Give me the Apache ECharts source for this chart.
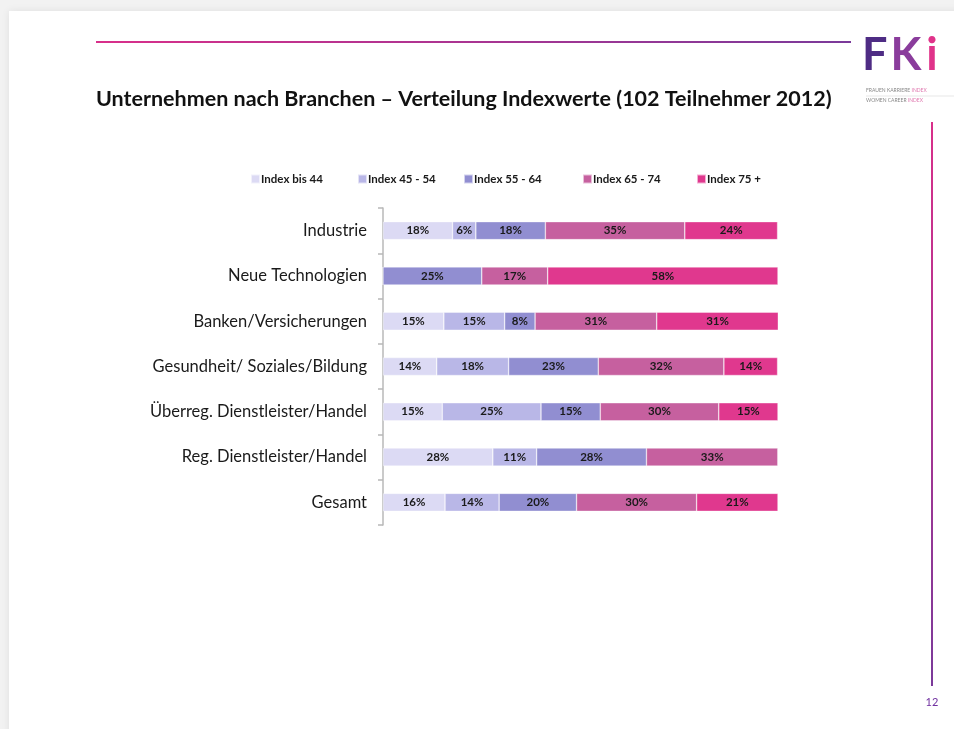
<!DOCTYPE html>
<html>
<head>
<meta charset="utf-8">
<script src="https://cdn.jsdelivr.net/npm/echarts@6/dist/echarts.min.js"></script>
<style>
html,body{margin:0;padding:0;background:#f2f2f2;}
#chart{width:954px;height:729px;}
</style>
</head>
<body>
<div id="chart"></div>
<script>
const categories = ['Industrie','Neue Technologien','Banken/Versicherungen','Gesundheit/ Soziales/Bildung','Überreg. Dienstleister/Handel','Reg. Dienstleister/Handel','Gesamt'];
const seriesNames = ['Index bis 44','Index 45 - 54','Index 55 - 64','Index 65 - 74','Index 75 +'];
const indexBis44 = [17.6, 0, 15.4, 13.6, 15.0, 27.8, 15.7];
const index45to54 = [5.9, 0, 15.4, 18.2, 25.0, 11.1, 13.7];
const index55to64 = [17.6, 25.0, 7.7, 22.7, 15.0, 27.8, 19.6];
const index65to74 = [35.3, 16.7, 30.8, 31.8, 30.0, 33.3, 30.4];
const index75plus = [23.5, 58.3, 30.8, 13.6, 15.0, 0, 20.6];
const colors = ['#DCDAF4','#B9B7E7','#918ED1','#C6609F','#E0388E'];
const legendLefts = [250, 357, 463, 582, 696];

const values = [indexBis44, index45to54, index55to64, index65to74, index75plus];
const FONT = 'Lato, "Open Sans", sans-serif';

const chart = echarts.init(document.getElementById('chart'));
const option = {
  backgroundColor: '#f2f2f2',
  animation: false,
  textStyle: {fontFamily: FONT},
  legend: seriesNames.map((n, i) => ({
    data: [n], left: legendLefts[i], top: 173, icon: 'rect', padding: 0,
    itemWidth: 9, itemHeight: 9, itemGap: 2,
    textStyle: {fontFamily: FONT, fontSize: 11.5, fontWeight: 'bold', color: '#1a1a1a', padding: [0,0,0,-4]},
    selectedMode: false
  })),
  grid: {left: 383, right: 176, top: 208, bottom: 204, containLabel: false},
  xAxis: {type: 'value', min: 0, max: 100, show: false},
  yAxis: {
    type: 'category', data: categories, inverse: true,
    axisLine: {show: true, lineStyle: {color: '#b8b8b8', width: 1.5}},
    axisTick: {show: true, length: 5, lineStyle: {color: '#b8b8b8', width: 1.5}},
    axisLabel: {fontFamily: FONT, fontSize: 16.5, color: '#1a1a1a', margin: 16}
  },
  series: seriesNames.map((n, i) => ({
    name: n, type: 'bar', stack: 'total', barWidth: 18,
    data: values[i],
    itemStyle: {color: colors[i], borderColor: 'rgba(255,255,255,0.6)', borderWidth: 0.6},
    label: {
      show: true, position: 'inside', fontFamily: FONT, fontSize: 11.5, fontWeight: 'bold', color: '#1a1a1a',
      formatter: p => p.value > 0 ? Math.round(p.value) + '%' : ''
    }
  })),
  graphic: [
    {type: 'rect', z: -10, shape: {x: 9, y: 11, width: 960, height: 730},
     style: {fill: '#ffffff', shadowBlur: 8, shadowColor: 'rgba(0,0,0,0.08)'}},
    {type: 'line', shape: {x1: 96, y1: 42, x2: 851, y2: 42},
     style: {lineWidth: 2, stroke: new echarts.graphic.LinearGradient(0,0,1,0,[{offset:0,color:'#D92F8A'},{offset:1,color:'#7A3A9A'}])}},
    {type: 'line', shape: {x1: 932, y1: 122, x2: 932, y2: 686},
     style: {lineWidth: 2, stroke: new echarts.graphic.LinearGradient(0,0,0,1,[{offset:0,color:'#D92F8A'},{offset:1,color:'#7A3A9A'}])}},
    {type: 'text', x: 96, y: 99,
     style: {text: 'Unternehmen nach Branchen – Verteilung Indexwerte (102 Teilnehmer 2012)', font: 'bold 21.5px ' + FONT, fill: '#111', verticalAlign: 'middle'}},
    {type: 'text', x: 932, y: 702,
     style: {text: '12', font: '11px ' + FONT, fill: '#7030A0', align: 'center', verticalAlign: 'middle'}},
    {type: 'text', x: 862, y: 33,
     style: {text: '{f|F}{k|K}{i|i}',
       rich: {f: {fontSize: 45, fontWeight: 'bold', fontFamily: FONT, fill: '#4E2C84'},
              k: {fontSize: 45, fontWeight: 'bold', fontFamily: FONT, fill: '#8A3C9C', padding: [0,0,0,3]},
              i: {fontSize: 45, fontFamily: FONT, fontWeight: 'bold', fill: '#E0338A', padding: [0,0,0,5]}}}},
    {type: 'text', x: 866, y: 88,
     style: {text: '{a|FRAUEN KARRIERE }{b|INDEX}', rich: {a: {fontSize: 5, fontFamily: FONT, fill: '#888'}, b: {fontSize: 5, fontFamily: FONT, fill: '#E07AB0'}}}},
    {type: 'line', shape: {x1: 866, y1: 96, x2: 954, y2: 96}, style: {lineWidth: 0.5, stroke: '#ccc'}},
    {type: 'text', x: 866, y: 98,
     style: {text: '{a|WOMEN CAREER }{b|INDEX}', rich: {a: {fontSize: 5, fontFamily: FONT, fill: '#888'}, b: {fontSize: 5, fontFamily: FONT, fill: '#E07AB0'}}}}
  ]
};
chart.setOption(option);
</script>
</body>
</html>
